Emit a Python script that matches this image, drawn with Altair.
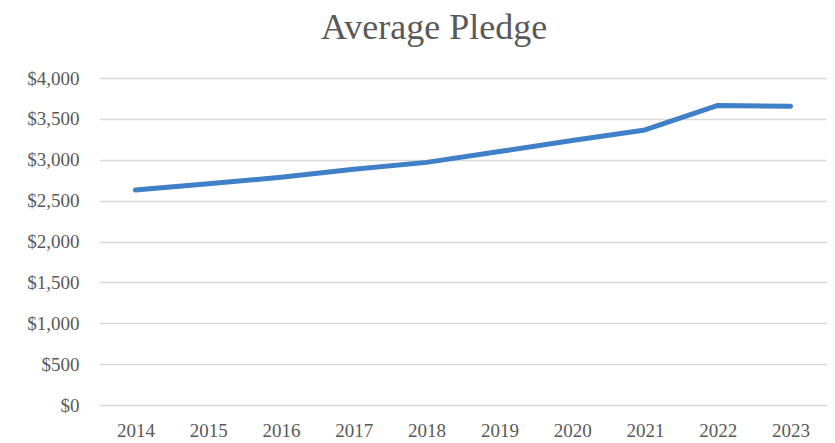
import altair as alt
import pandas as pd

years = ["2014", "2015", "2016", "2017", "2018", "2019", "2020", "2021", "2022", "2023"]
pledge = [2630, 2705, 2787, 2885, 2968, 3100, 3235, 3365, 3665, 3655]

df = pd.DataFrame({"Year": years, "Pledge": pledge})

FONT = "Liberation Serif"
GRAY = "#595959"

chart = alt.Chart(df).mark_line(
    color="#4080C8", strokeWidth=5, strokeCap="round", strokeJoin="round"
).encode(
    x=alt.X("Year:O", sort=years, scale=alt.Scale(padding=0.5),
            axis=alt.Axis(title=None, labelAngle=0, domain=False, ticks=False,
                          labelPadding=16, labelFont=FONT, labelFontSize=19,
                          labelColor=GRAY)),
    y=alt.Y("Pledge:Q", scale=alt.Scale(domain=[0, 4000]),
            axis=alt.Axis(title=None, values=list(range(0, 4001, 500)),
                          format="$,.0f", domain=False, ticks=False,
                          labelPadding=20, labelFont=FONT, labelFontSize=19,
                          labelColor=GRAY, gridColor="#d9d9d9", gridWidth=1.3)),
).properties(
    width=728,
    height=327,
    title=alt.TitleParams("Average Pledge", font=FONT, fontSize=36,
                          fontWeight="normal", color=GRAY, anchor="middle",
                          frame="group", dx=-29, offset=22),
    autosize=alt.AutoSizeParams(type="none"),
    padding={"left": 91, "top": 70, "right": 0, "bottom": 40},
).configure_view(stroke=None)

chart.save("out.html", embed_options={"renderer": "svg", "actions": False})
